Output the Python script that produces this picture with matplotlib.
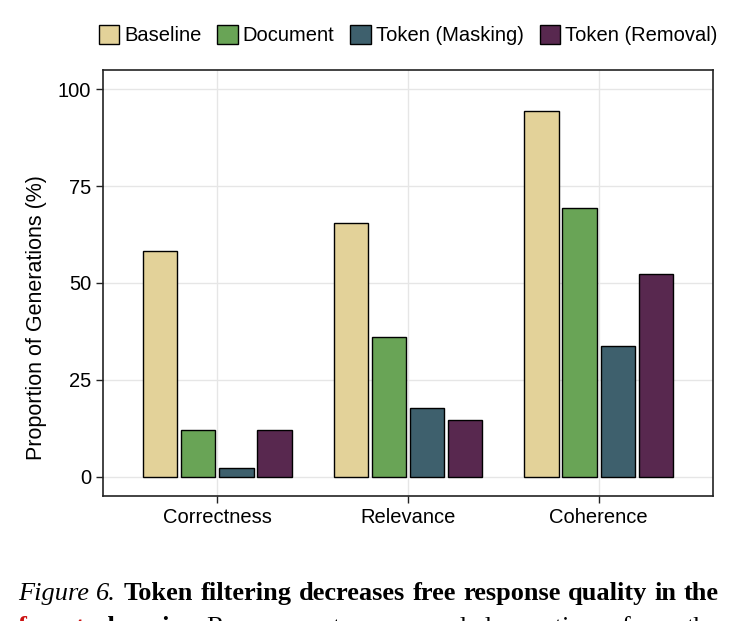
import numpy as np
import matplotlib
matplotlib.use("Agg")
import matplotlib.pyplot as plt

categories = ["Correctness", "Relevance", "Coherence"]
methods = ["Baseline", "Document", "Token (Masking)", "Token (Removal)"]
baseline = [58.2, 65.5, 94.3]
document = [12.1, 36.1, 69.3]
masking = [2.3, 17.8, 33.8]
removal = [12.1, 14.7, 52.3]
colors = ["#E3D299", "#69A456", "#3E606D", "#58284F"]

plt.rcParams["font.family"] = ["Liberation Sans", "DejaVu Sans"]

fig = plt.figure(figsize=(7.35, 6.21), dpi=100)
ax = fig.add_axes([103 / 735, 1 - 496 / 621, 610 / 735, 426 / 621])

x = np.arange(len(categories))
offsets = [-0.3, -0.1, 0.1, 0.3]
for vals, name, col, off in zip([baseline, document, masking, removal], methods, colors, offsets):
    ax.bar(x + off, vals, width=0.18, color=col, edgecolor="black", linewidth=1.0,
           label=name, zorder=3)

ax.set_xlim(-0.6, 2.6)
ax.set_ylim(-5, 105)
ax.set_yticks([0, 25, 50, 75, 100])
ax.set_xticks(x)
ax.set_xticklabels(categories)
ax.tick_params(labelsize=14.5, direction="out", length=5, width=1, colors="#222222", labelcolor="black")
ax.set_ylabel("Proportion of Generations (%)", fontsize=15.5)
ax.yaxis.set_label_coords(-0.092, 0.418)
ax.grid(True, color="#e6e6e6", linewidth=1, zorder=0)
for s in ax.spines.values():
    s.set_linewidth(1.2)
    s.set_color("#222222")

ax.legend(loc="center", bbox_to_anchor=(0.5, 1 + 35 / 426), ncol=4, frameon=False,
          fontsize=14.5, handlelength=1.0, handleheight=1.1, handletextpad=0.25,
          columnspacing=0.8, borderaxespad=0.0, borderpad=0.0)

# caption below the chart, justified across the page width
serif = ["Liberation Serif", "DejaVu Serif"]
line1 = [("Figure", "italic", "normal", "black"), ("6.", "italic", "normal", "black"),
         ("Token", "normal", "bold", "black"), ("filtering", "normal", "bold", "black"),
         ("decreases", "normal", "bold", "black"), ("free", "normal", "bold", "black"),
         ("response", "normal", "bold", "black"), ("quality", "normal", "bold", "black"),
         ("in", "normal", "bold", "black"), ("the", "normal", "bold", "black")]
line2 = [("forget", "normal", "bold", "#cc1111"), ("domain.", "normal", "bold", "black"),
         ("Responses", "normal", "normal", "black"), ("to", "normal", "normal", "black"),
         ("open-ended", "normal", "normal", "black"), ("questions", "normal", "normal", "black"),
         ("from", "normal", "normal", "black"), ("the", "normal", "normal", "black")]

renderer = fig.canvas.get_renderer()


def justify(words, y_px, x0=18, x1=719, size=19):
    objs = []
    widths = []
    for w, st, wt, c in words:
        t = fig.text(0, 1 - y_px / 621, w, family=serif, style=st, weight=wt, color=c,
                     fontsize=size, va="baseline", ha="left")
        objs.append(t)
        widths.append(t.get_window_extent(renderer).width)
    gap = (x1 - x0 - sum(widths)) / (len(words) - 1)
    pos = x0
    for t, wd in zip(objs, widths):
        t.set_x(pos / 735)
        pos += wd + gap


justify(line1, 600)
justify(line2, 634)

fig.savefig("out.png", dpi=100)
